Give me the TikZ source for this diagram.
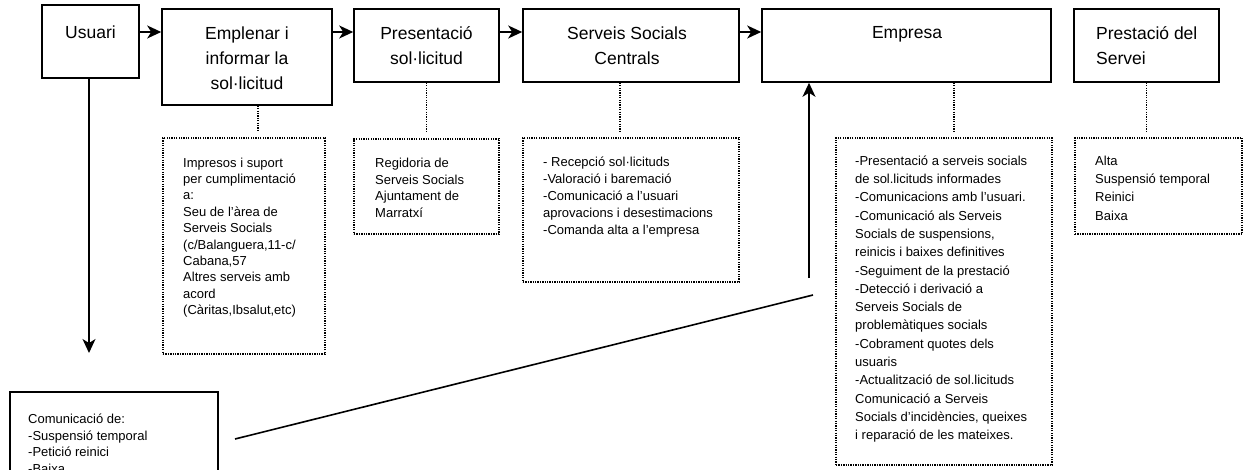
\documentclass[tikz,border=0pt]{standalone}
\usepackage{fontspec}
\setmainfont{Liberation Sans}
\usetikzlibrary{arrows.meta,calc}
\begin{document}
\begin{tikzpicture}[x=1pt,y=-1pt,
  box/.style={draw, line width=1.6pt, rectangle, inner sep=0pt},
  notebox/.style={draw, line width=1.5pt, dash pattern=on 1.3pt off 1.1pt, rectangle, inner sep=0pt},
  big/.style={font=\fontsize{17.5}{25}\selectfont, inner sep=0pt, align=center},
  small/.style={font=\fontsize{13}{#1}\selectfont, inner sep=0pt, align=left, anchor=north west},
  arr/.style={line width=1.6pt, -{Stealth[length=14pt,width=13pt,inset=4pt]}},
  dots/.style={line width=1.3pt, dash pattern=on 1.2pt off 1.2pt, shorten >=6pt},
  plain/.style={line width=1.6pt}]
\useasboundingbox (0,0) rectangle (1244,470);
\clip (0,0) rectangle (1244,470);

% main boxes
\node[box, minimum width=97pt, minimum height=73pt] (usuari) at (90.5,41.5) {};
\node[box, minimum width=170pt, minimum height=96pt] (empl) at (247,57) {};
\node[box, minimum width=145pt, minimum height=73pt] (pres) at (426.5,45.5) {};
\node[box, minimum width=216pt, minimum height=73pt] (ssc) at (631,45.5) {};
\node[box, minimum width=289pt, minimum height=73pt] (emp) at (906.5,45.5) {};
\node[box, minimum width=145pt, minimum height=73pt] (prest) at (1146.5,45.5) {};

% main texts
\node[big, anchor=base] (usuariT) at (90.5,38.5) {Usuari};
\node[big, anchor=north] (emplT) at (247,21.5) {\strut Emplenar i\\informar la\\sol·licitud};
\node[big, anchor=north] (presT) at (426.5,21.5) {\strut Presentació\\sol·licitud};
\node[big, anchor=north] (sscT) at (627,21.5) {\strut Serveis Socials\\Centrals};
\node[big, anchor=base] (empT) at (907,39) {Empresa};
\node[big, anchor=north west, align=left] (prestT) at (1096,21.5) {\strut Prestació del\\Servei};

% note boxes
\node[notebox, minimum width=162pt, minimum height=216pt] (n1) at (244,246) {};
\node[notebox, minimum width=145pt, minimum height=95pt] (n2) at (426.5,186.5) {};
\node[notebox, minimum width=216pt, minimum height=144pt] (n3) at (631,210) {};
\node[notebox, minimum width=216pt, minimum height=327pt] (n4) at (944,301.5) {};
\node[notebox, minimum width=167pt, minimum height=96pt] (n5) at (1158.5,186) {};

% note texts
\node[small=16.4] (t1) at (183,155.5) {\strut Impresos i suport\\per cumplimentació\\a:\\Seu de l’àrea de\\Serveis Socials\\(c/Balanguera,11-c/\\Cabana,57\\Altres serveis amb\\acord\\(Càritas,Ibsalut,etc)};
\node[small=16.7] (t2) at (375,155.6) {\strut Regidoria de\\Serveis Socials\\Ajuntament de\\Marratxí};
\node[small=16.8] (t3) at (543,155) {\strut - Recepció sol·licituds\\-Valoració i baremació\\-Comunicació a l’usuari\\aprovacions i desestimacions\\-Comanda alta a l’empresa};
\node[small=18.3] (t4) at (855,152.2) {\strut -Presentació a serveis socials\\de sol.licituds informades\\-Comunicacions amb l’usuari.\\-Comunicació als Serveis\\Socials de suspensions,\\reinicis i baixes definitives\\-Seguiment de la prestació\\-Detecció i derivació a\\Serveis Socials de\\problemàtiques socials\\-Cobrament quotes dels\\usuaris\\-Actualització de sol.licituds\\Comunicació a Serveis\\Socials d’incidències, queixes\\i reparació de les mateixes.};
\node[small=18.3] (t5) at (1095,152.2) {\strut Alta\\Suspensió temporal\\Reinici\\Baixa};

% bottom box
\node[box, minimum width=208pt, minimum height=108pt] (comm) at (114,446) {};
\node[small=16.5] (t6) at (28,411.8) {\strut Comunicació de:\\-Suspensió temporal\\-Petició reinici\\-Baixa};

% horizontal arrows
\coordinate (row) at (0,32);
\draw[arr] (usuari.east |- row) -- (empl.west |- row);
\draw[arr] (empl.east |- row) -- (pres.west |- row);
\draw[arr] (pres.east |- row) -- (ssc.west |- row);
\draw[arr] (ssc.east |- row) -- (emp.west |- row);

% dotted connectors
\draw[dots] ([xshift=11pt]empl.south) -- ([xshift=11pt]empl.south |- n1.north);
\draw[dots] (pres.south) -- (pres.south |- n2.north);
\draw[dots] ([xshift=-11pt]ssc.south) -- ([xshift=-11pt]ssc.south |- n3.north);
\draw[dots] ([xshift=47.5pt]emp.south) -- ([xshift=47.5pt]emp.south |- n4.north);
\draw[dots] (prest.south) -- (prest.south |- n5.north);

% down arrow from Usuari
\coordinate (dn) at (89,353);
\draw[arr] (usuari.south -| dn) -- (dn);

% slanted line and up arrow
\coordinate (s1) at (235,439);
\coordinate (s2) at (813,295);
\draw[plain] (s1) -- (s2);
\coordinate (up) at (809,278);
\draw[arr] (up) -- (up |- emp.south);
\end{tikzpicture}
\end{document}
